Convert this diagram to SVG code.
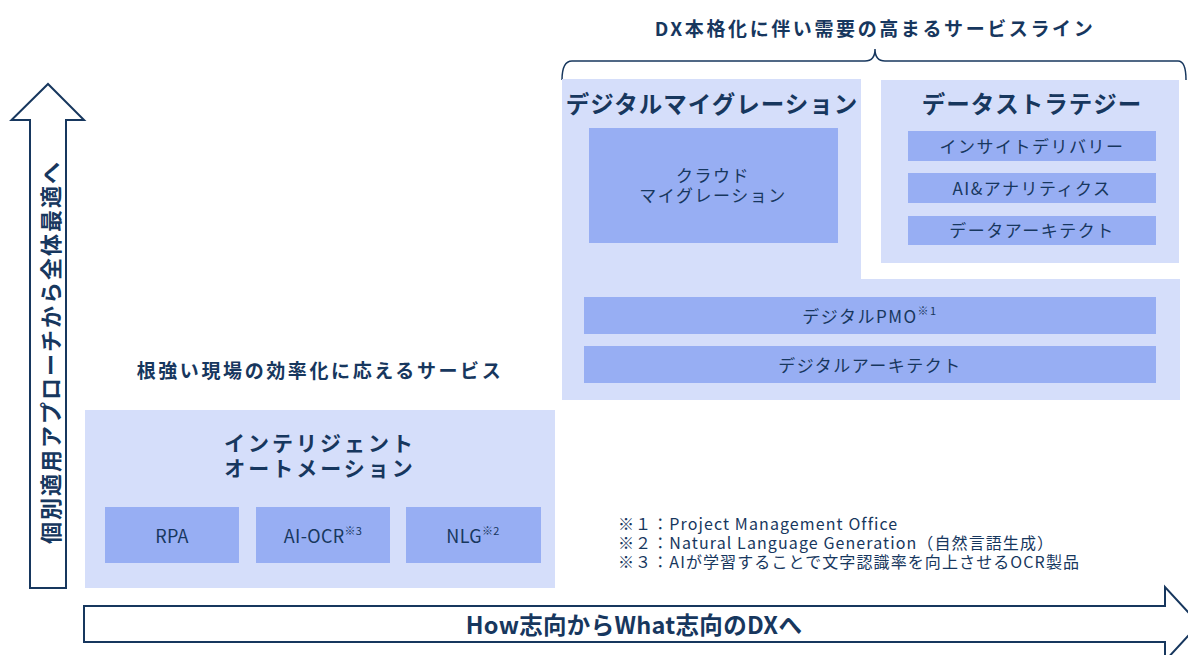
<svg xmlns="http://www.w3.org/2000/svg" width="1188" height="655" viewBox="0 0 1188 655">
<style>
text{font-family:"Noto Sans CJK JP","Noto Sans",sans-serif;fill:#17375e;text-anchor:middle;dominant-baseline:central}
.bg{fill:#d5defa}
.in{fill:#97aef3}
.t{font-weight:bold;font-size:22px;letter-spacing:2px}
.h{font-weight:bold;font-size:19px;letter-spacing:2.6px}
.s{font-size:17px;letter-spacing:1.5px}
.e{font-size:18px;letter-spacing:0.3px}
.n{font-size:16px;letter-spacing:1.1px;text-anchor:start}
.sup{font-size:11px}
.ar{fill:#fff;stroke:#17375e;stroke-width:2}
</style>
<rect width="1188" height="655" fill="#fff"/>
<g id="connectors">
<path class="ar" d="M30,588 V120 H11.5 L48,84 L84,120 H66 V588 Z"/>
<path class="ar" d="M84,606 H1165 V587 L1199,624 L1165,661 V642 H84 Z"/>
<path d="M562,80 Q562,61 572,61 H865 Q875,61 875,49 Q875,61 885,61 H1178 Q1186,61 1186,80" fill="none" stroke="#17375e" stroke-width="1.5"/>
</g>
<g id="axis-labels">
<text class="t" transform="translate(49,352) rotate(-90)">個別適用アプローチから全体最適へ</text>
<text class="t" x="634" y="624" style="font-size:23.5px;letter-spacing:0.3px">How志向からWhat志向のDXへ</text>
<text class="h" x="875" y="27">DX本格化に伴い需要の高まるサービスライン</text>
<text class="h" x="320" y="369">根強い現場の効率化に応えるサービス</text>
</g>
<g id="intelligent-automation">
<rect class="bg" x="85" y="410" width="470" height="178"/>
<text class="t" x="320" y="442" style="font-size:21px;letter-spacing:3px">インテリジェント</text>
<text class="t" x="320" y="467" style="font-size:21px;letter-spacing:3px">オートメーション</text>
</g>
<g id="rpa">
<rect class="in" x="105" y="507" width="134" height="56"/>
<text class="e" x="172" y="535">RPA</text>
</g>
<g id="ai-ocr">
<rect class="in" x="256" y="507" width="134" height="56"/>
<text class="e" x="323" y="535">AI-OCR<tspan class="sup" dy="-5">※3</tspan></text>
</g>
<g id="nlg">
<rect class="in" x="406" y="507" width="135" height="56"/>
<text class="e" x="473" y="535">NLG<tspan class="sup" dy="-5">※2</tspan></text>
</g>
<g id="digital-migration">
<path class="bg" d="M562,79 H861 V279 H1180 V400 H562 Z"/>
<text class="t" x="712" y="103" style="font-size:23.5px;letter-spacing:1px">デジタルマイグレーション</text>
</g>
<g id="cloud-migration">
<rect class="in" x="589" y="128" width="249" height="115"/>
<text class="s" x="713" y="174">クラウド</text>
<text class="s" x="713" y="194">マイグレーション</text>
</g>
<g id="digital-pmo">
<rect class="in" x="584" y="297" width="572" height="37"/>
<text class="s" x="870" y="315">デジタルPMO<tspan class="sup" dy="-5">※1</tspan></text>
</g>
<g id="digital-architect">
<rect class="in" x="584" y="346" width="572" height="37"/>
<text class="s" x="870" y="364">デジタルアーキテクト</text>
</g>
<g id="data-strategy">
<rect class="bg" x="881" y="80" width="298" height="183"/>
<text class="t" x="1032" y="103" style="font-size:23.5px;letter-spacing:1px">データストラテジー</text>
</g>
<g id="insight-delivery">
<rect class="in" x="908" y="131" width="248" height="30"/>
<text class="s" x="1032" y="145">インサイトデリバリー</text>
</g>
<g id="ai-analytics">
<rect class="in" x="908" y="173" width="248" height="30"/>
<text class="s" x="1032" y="187">AI&amp;アナリティクス</text>
</g>
<g id="data-architect">
<rect class="in" x="908" y="216" width="248" height="29"/>
<text class="s" x="1032" y="229">データアーキテクト</text>
</g>
<g id="notes">
<text class="n" x="618" y="523">※１：Project Management Office</text>
<text class="n" x="618" y="542">※２：Natural Language Generation（自然言語生成）</text>
<text class="n" x="618" y="561">※３：AIが学習することで文字認識率を向上させるOCR製品</text>
</g>
</svg>
